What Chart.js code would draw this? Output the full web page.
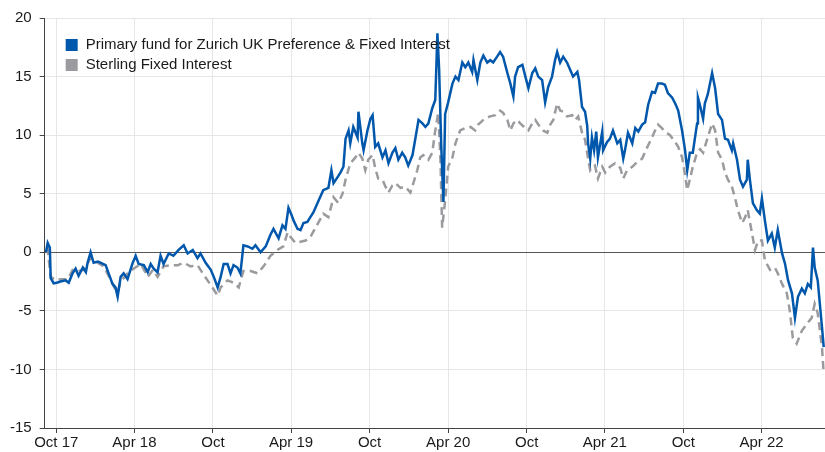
<!DOCTYPE html>
<html>
<head>
<meta charset="utf-8">
<script src="https://cdn.jsdelivr.net/npm/chart.js@4.4.1/dist/chart.umd.min.js"></script>
<style>
  html, body { margin: 0; padding: 0; background: #ffffff; }
  #wrap { width: 825px; height: 452px; position: relative; }
</style>
</head>
<body>
<div id="wrap"><canvas id="c"></canvas></div>
<script>
// Days since 1 Oct 2017 and cumulative performance (%)
const fundLabel = "Primary fund for Zurich UK Preference & Fixed Interest";
const sectorLabel = "Sterling Fixed Interest";

const fundDays = [-24,-20,-15,-13,-6,1,10,22,29,38,45,52,62,69,73,80,87,97,104,115,122,131,138,143,150,157,166,178,185,192,204,213,220,227,236,243,250,262,273,285,297,306,318,329,336,348,360,367,376,383,390,399,406,413,422,429,436,446,457,464,476,488,499,506,518,527,534,541,548,553,562,569,576,585,592,599,611,622,634,641,646,655,662,669,674,681,685,692,702,704,713,716,725,732,737,743,750,760,767,774,783,790,797,806,813,820,830,837,844,853,860,867,876,883,888,892,897,902,906,913,923,930,937,946,953,960,969,972,981,988,995,1004,1011,1018,1027,1034,1041,1051,1058,1065,1069,1076,1086,1093,1100,1109,1116,1123,1132,1139,1146,1155,1162,1167,1174,1181,1190,1197,1204,1214,1218,1225,1232,1237,1239,1244,1248,1253,1258,1262,1272,1274,1283,1290,1297,1307,1314,1321,1325,1332,1342,1349,1356,1365,1372,1379,1388,1395,1402,1411,1418,1425,1435,1442,1449,1458,1465,1470,1476,1483,1493,1495,1500,1507,1511,1518,1528,1535,1542,1551,1558,1565,1574,1577,1586,1593,1600,1609,1611,1616,1623,1632,1639,1644,1651,1658,1667,1674,1681,1691,1698,1705,1714,1721,1728,1737,1744,1751,1758,1763,1767,1774,1784,1788];
const fundValues = [0.0,0.8,0.4,-2.2,-2.65,-2.6,-2.5,-2.4,-2.6,-1.8,-1.4,-2.0,-1.3,-1.7,-0.9,0.0,-0.9,-0.8,-0.9,-1.1,-1.8,-2.7,-3.0,-3.8,-2.1,-1.8,-2.3,-0.9,-0.3,-1.0,-1.1,-1.7,-1.0,-1.4,-1.7,-0.3,-1.0,-0.1,-0.3,0.2,0.6,-0.1,0.2,-0.5,-0.1,-0.9,-1.5,-2.1,-3.0,-2.1,-1.0,-1.0,-1.8,-1.1,-1.3,-1.8,0.6,0.5,0.3,0.6,0.0,0.5,1.5,2.0,1.2,2.3,2.0,3.8,3.2,2.7,2.0,1.9,2.5,2.6,3.0,3.4,4.4,5.3,5.5,7.0,5.9,6.4,6.8,7.3,9.7,10.4,9.3,10.7,9.8,12.0,9.3,8.7,10.4,11.4,11.7,9.0,9.3,8.1,8.7,7.6,8.5,8.9,7.9,8.5,8.1,7.4,8.3,9.8,11.3,11.0,10.7,11.0,12.3,13.0,18.7,15.6,9.0,4.3,11.8,12.8,14.4,15.0,14.7,16.2,15.8,16.2,15.4,16.4,14.7,16.2,16.8,16.2,16.4,16.2,16.7,17.1,16.7,15.3,14.4,13.3,15.0,15.8,16.0,15.0,14.0,15.3,15.7,15.0,14.7,12.8,14.1,15.0,16.4,17.1,16.2,16.7,16.2,15.6,15.0,15.4,14.7,12.4,12.0,10.8,9.3,8.0,9.8,8.7,10.3,8.1,10.3,8.7,9.4,9.7,10.4,9.3,9.6,8.0,8.7,10.2,9.3,10.6,10.3,10.9,11.1,12.6,13.7,13.6,14.4,14.4,14.3,13.6,13.2,12.7,12.1,10.4,8.7,7.0,8.5,8.5,11.0,13.2,12.5,11.4,12.7,13.5,15.3,14.0,11.8,11.3,9.7,9.6,8.7,9.3,7.9,6.2,5.6,6.2,7.9,6.2,4.2,3.6,3.3,4.6,2.7,1.0,1.6,0.4,1.9,-0.1,-1.0,-2.4,-3.5,-5.6,-3.8,-3.1,-3.5,-2.7,-3.0,0.4,-1.3,-2.4,-6.4,-8.1];

const sectorDays = [-24,-20,-13,-1,10,27,38,50,64,80,97,111,127,138,143,150,166,180,197,213,225,236,250,266,283,297,313,329,343,360,376,383,399,413,425,436,453,469,483,499,515,529,539,546,557,569,581,592,604,622,634,646,657,667,674,685,697,704,713,720,727,737,743,750,760,767,774,783,790,802,813,825,832,841,848,855,867,876,883,890,895,899,906,913,923,930,941,953,965,976,983,995,1004,1011,1023,1034,1041,1051,1058,1065,1074,1081,1093,1100,1109,1116,1123,1134,1144,1151,1158,1167,1174,1181,1190,1202,1209,1216,1225,1232,1239,1244,1248,1255,1262,1272,1279,1290,1302,1314,1321,1330,1342,1353,1365,1376,1388,1395,1402,1411,1418,1430,1442,1449,1458,1465,1470,1476,1483,1493,1500,1507,1516,1528,1535,1542,1551,1558,1565,1574,1581,1588,1598,1605,1611,1621,1628,1635,1644,1651,1663,1674,1681,1691,1702,1709,1716,1725,1737,1749,1760,1767,1774,1784,1788];
const sectorValues = [0.0,0.2,-2.1,-2.4,-2.3,-2.3,-1.5,-1.6,-1.5,-0.5,-0.9,-1.2,-2.4,-3.2,-3.4,-2.5,-1.8,-1.4,-1.0,-2.1,-1.5,-2.1,-1.2,-1.1,-1.1,-0.9,-1.2,-1.1,-1.9,-2.8,-3.7,-3.0,-2.4,-2.6,-3.0,-1.6,-1.6,-1.8,-1.2,-0.3,0.2,0.5,1.7,1.3,0.8,0.9,1.0,1.3,2.1,3.3,3.0,4.7,4.2,5.0,6.2,7.6,8.1,8.5,8.0,7.0,7.9,8.3,7.2,6.3,6.2,5.6,5.1,5.7,5.9,5.5,5.6,5.1,5.9,7.0,8.1,8.3,7.9,8.5,10.4,11.9,8.0,2.1,4.4,7.3,8.1,9.3,10.4,10.6,10.7,10.4,10.9,11.3,11.5,11.6,11.7,12.1,11.9,11.3,10.4,11.0,11.3,11.0,10.6,10.4,11.0,11.3,10.9,10.4,10.2,10.9,11.3,12.7,12.1,12.0,11.6,11.7,11.3,11.6,10.2,9.6,8.0,7.0,7.2,7.4,6.3,7.3,6.8,7.3,7.6,7.2,6.3,7.0,7.3,7.7,8.0,8.9,9.8,10.4,10.9,10.6,10.3,10.0,9.4,9.0,8.1,6.6,5.3,6.2,7.3,8.5,8.8,8.5,9.6,11.0,10.4,8.5,7.9,6.8,6.2,5.6,4.7,3.6,2.5,3.0,3.6,1.6,0.2,1.0,1.0,-0.7,-1.5,-1.3,-1.8,-2.7,-3.5,-5.0,-7.3,-7.8,-6.7,-6.1,-5.6,-4.4,-5.2,-8.1,-10.4];

const tickDays = [0,182,365,547,730,913,1096,1278,1461,1643];
const tickLabels = ["Oct 17","Apr 18","Oct","Apr 19","Oct","Apr 20","Oct","Apr 21","Oct","Apr 22"];
const yTicks = [-15,-10,-5,0,5,10,15,20];

const BLUE = "#0057ab";
const GREY = "#9b9b9f";
const FONT = "'Liberation Sans', Arial, sans-serif";

const toPoints = (xs, ys) => xs.map((x, i) => ({ x: x, y: ys[i] }));

const insideLegend = {
  id: "insideLegend",
  afterDraw(chart) {
    const ctx = chart.ctx;
    const area = chart.chartArea;
    ctx.save();
    ctx.font = "15px " + FONT;
    ctx.textBaseline = "middle";
    ctx.textAlign = "left";
    chart.data.datasets.forEach((ds, i) => {
      const y = area.top + 27 + i * 20;
      ctx.fillStyle = ds.borderColor;
      ctx.fillRect(area.left + 21, y - 6, 12, 12);
      ctx.fillStyle = "#1a1a1a";
      ctx.fillText(ds.label, area.left + 41, y);
    });
    ctx.restore();
  }
};

new Chart(document.getElementById("c"), {
  type: "line",
  data: {
    datasets: [
      {
        label: fundLabel,
        data: toPoints(fundDays, fundValues),
        borderColor: BLUE,
        backgroundColor: BLUE,
        borderWidth: 2.5,
        pointRadius: 0,
        tension: 0,
        fill: false
      },
      {
        label: sectorLabel,
        data: toPoints(sectorDays, sectorValues),
        borderColor: GREY,
        backgroundColor: GREY,
        borderWidth: 2.5,
        borderDash: [8, 5],
        pointRadius: 0,
        tension: 0,
        fill: false
      }
    ]
  },
  options: {
    responsive: true,
    maintainAspectRatio: false,
    animation: false,
    layout: { padding: { top: 18, left: 2, right: 0, bottom: 0 } },
    plugins: {
      legend: { display: false },
      tooltip: { enabled: false }
    },
    scales: {
      x: {
        type: "linear",
        min: -27,
        max: 1791,
        afterBuildTicks: (scale) => { scale.ticks = tickDays.map(v => ({ value: v })); },
        ticks: {
          autoSkip: false,
          maxRotation: 0,
          padding: 2,
          color: "#1a1a1a",
          font: { family: FONT, size: 15, lineHeight: 1.0 },
          callback: (value) => {
            const i = tickDays.indexOf(value);
            return i >= 0 ? tickLabels[i] : "";
          }
        },
        grid: { color: "#e6e6e6", lineWidth: 1, tickLength: 5, tickColor: "#444" },
        border: { color: "#444", width: 1 }
      },
      y: {
        min: -15,
        max: 20,
        afterBuildTicks: (scale) => { scale.ticks = yTicks.map(v => ({ value: v })); },
        ticks: {
          padding: 8,
          color: "#1a1a1a",
          font: { family: FONT, size: 15 }
        },
        grid: {
          color: (ctx) => (ctx.tick && ctx.tick.value === 0 ? "#555555" : "#e6e6e6"),
          lineWidth: 1,
          tickLength: 5,
          tickColor: "#444"
        },
        border: { color: "#444", width: 1 }
      }
    }
  },
  plugins: [insideLegend]
});
</script>
</body>
</html>
